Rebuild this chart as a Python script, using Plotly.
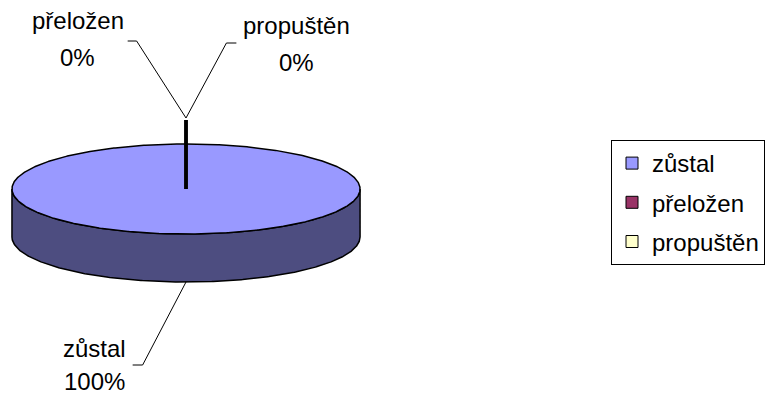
import numpy as np
import plotly.graph_objects as go

# Category data (shares in percent)
categories = ["zůstal", "přeložen", "propuštěn"]
values = [100, 0, 0]
top_colors = ["#9999FF", "#993366", "#FFFFCC"]
side_colors = ["#4D4D80", "#4D1A33", "#808066"]

W, H = 765, 398
FONT = "Arial, Liberation Sans, sans-serif"
FSIZE = 24

# 3D pie geometry (pixel space: x right, y down)
CX, CY, RX, RY, DEPTH = 186.5, 189.0, 174.5, 45.0, 48.0
START = 90.0  # slices start at 12 o'clock and run clockwise

# where each data label sits: (name centre, percent centre, leader elbow, leader end)
label_layout = {
    "zůstal":    dict(name=(95, 348), pct=(95, 381), elbow=(143, 365), end=(133, 365)),
    "přeložen":  dict(name=(78, 20),  pct=(78, 57),  elbow=(137, 41),  end=(128, 41)),
    "propuštěn": dict(name=(297, 25), pct=(297, 62), elbow=(227, 43),  end=(237, 43)),
}


def rim(theta, dy=0.0, grow=0.0):
    t = np.radians(theta)
    return CX + (RX + grow) * np.cos(t), CY - (RY + grow) * np.sin(t) + dy


total = float(sum(values))
spans = []
a0 = START
for v in values:
    a1 = a0 - 360.0 * v / total
    spans.append((a0, a1))
    a0 = a1

fig = go.Figure()

# side walls (front half only)
for (a0, a1), v, sc in zip(spans, values, side_colors):
    if v <= 0:
        continue
    th = np.linspace(a0, a1, 721)
    front = th[np.sin(np.radians(th)) <= 1e-9]
    if front.size == 0:
        continue
    front = np.sort(np.mod(front - START, 360) + START)  # keep arc contiguous
    xt, yt = rim(front)
    xb, yb = rim(front[::-1], dy=DEPTH)
    fig.add_trace(go.Scatter(
        x=np.concatenate([xt, xb, xt[:1]]), y=np.concatenate([yt, yb, yt[:1]]),
        mode="lines", fill="toself", fillcolor=sc,
        line=dict(color="black", width=1.5), hoverinfo="skip", showlegend=False))

# top faces
for (a0, a1), v, tc in zip(spans, values, top_colors):
    if v <= 0:
        continue
    th = np.linspace(a0, a1, 721)
    xs, ys = rim(th)
    if abs(a0 - a1) < 359.999:
        xs = np.concatenate([[CX], xs, [CX]])
        ys = np.concatenate([[CY], ys, [CY]])
    fig.add_trace(go.Scatter(
        x=xs, y=ys, mode="lines", fill="toself", fillcolor=tc,
        line=dict(color="black", width=1.5), hoverinfo="skip", showlegend=False))

# zero-width slices collapse to a single radial edge
for (a0, a1), v in zip(spans, values):
    if v > 0:
        continue
    ex, ey = rim(a0, grow=DEPTH / 2)
    fig.add_trace(go.Scatter(
        x=[CX, ex], y=[CY, ey], mode="lines",
        line=dict(color="black", width=3.5), hoverinfo="skip", showlegend=False))

# leader lines and data labels
for cat, (a0, a1), v in zip(categories, spans, values):
    mid = (a0 + a1) / 2.0
    if np.sin(np.radians(mid)) < 0:
        sx, sy = rim(mid, dy=DEPTH)
    else:
        sx, sy = rim(mid, grow=DEPTH / 2 + 2)
    lay = label_layout[cat]
    fig.add_trace(go.Scatter(
        x=[sx, lay["elbow"][0], lay["end"][0]], y=[sy, lay["elbow"][1], lay["end"][1]],
        mode="lines", line=dict(color="black", width=1), hoverinfo="skip", showlegend=False))
    pct = f"{round(100 * v / total)}%"
    for key, txt in (("name", cat), ("pct", pct)):
        fig.add_annotation(x=lay[key][0], y=lay[key][1], text=txt, showarrow=False,
                           xanchor="center", yanchor="middle",
                           font=dict(family=FONT, size=FSIZE, color="black"))

# legend entries
for cat, tc in zip(categories, top_colors):
    fig.add_trace(go.Scatter(
        x=[None], y=[None], mode="markers", name=cat, legendgroup=cat,
        marker=dict(symbol="square", size=12, color=tc, line=dict(color="black", width=1))))

fig.update_layout(
    width=W, height=H, margin=dict(l=0, r=0, t=0, b=0),
    paper_bgcolor="white", plot_bgcolor="white",
    xaxis=dict(range=[0, W], visible=False, fixedrange=True),
    yaxis=dict(range=[H, 0], visible=False, fixedrange=True),
    legend=dict(x=613 / W, y=1 - 140 / H, xanchor="left", yanchor="top",
                bordercolor="black", borderwidth=1, bgcolor="white",
                traceorder="grouped", tracegroupgap=5,
                font=dict(family=FONT, size=FSIZE, color="black")),
    hovermode=False,
)

fig.write_html("out.html")
